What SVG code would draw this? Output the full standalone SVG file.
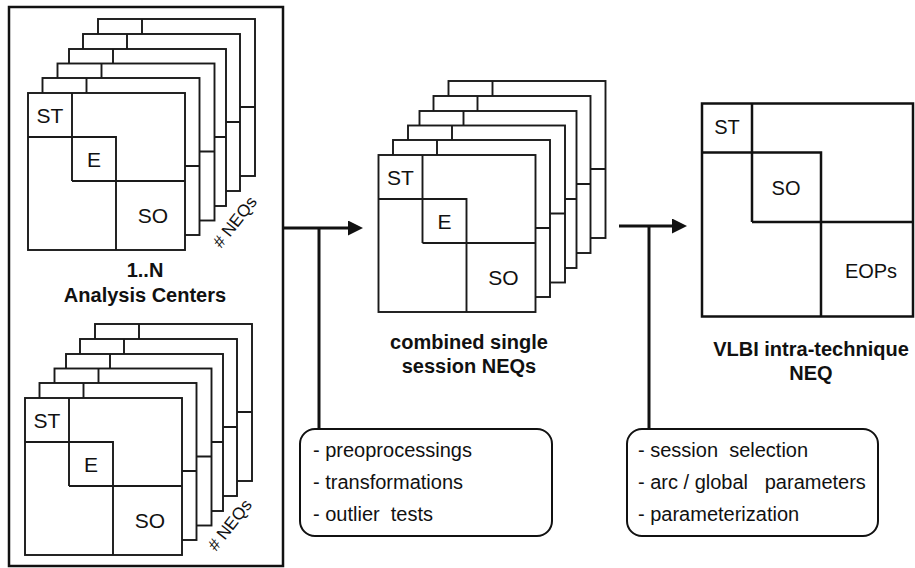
<svg xmlns="http://www.w3.org/2000/svg" width="915" height="568" viewBox="0 0 915 568">
<style>
.m{fill:#fff;stroke:#1a1a1a;stroke-width:1.9}
.ml{fill:none;stroke:#1a1a1a;stroke-width:1.9}
.t{font-family:"Liberation Sans",Arial,Helvetica,sans-serif;fill:#111}
.c{font-size:21px;text-anchor:middle}
.r{font-size:20px;text-anchor:middle}
.b{font-size:20px;font-weight:bold;text-anchor:middle}
.l{font-size:20px;white-space:pre}
.n{font-size:17px}
.con{fill:none;stroke:#111;stroke-width:3}
.box{fill:#fff;stroke:#111;stroke-width:2}
.frame{fill:none;stroke:#111;stroke-width:2.5}
.big{fill:#fff;stroke:#111;stroke-width:2.5}
.bigl{fill:none;stroke:#111;stroke-width:2.5}
</style>
<defs>
<g id="mat">
<rect class="m" x="0" y="0" width="157" height="157"/>
<path class="ml" d="M44,0V88M0,44H88V157M44,88H157"/>
</g>
<g id="stack">
<use href="#mat" x="70" y="-74"/>
<use href="#mat" x="55" y="-59"/>
<use href="#mat" x="41" y="-44"/>
<use href="#mat" x="29.5" y="-29.5"/>
<use href="#mat" x="14.5" y="-15"/>
<use href="#mat"/>
</g>
<marker id="ah" markerUnits="userSpaceOnUse" markerWidth="16" markerHeight="16" refX="2" refY="7.5" orient="auto">
<path d="M0,0L15,7.5L0,15z" fill="#111"/>
</marker>
</defs>

<g id="analysis-centers">
<rect class="frame" x="9" y="7" width="274" height="559"/>
<text class="t b" x="145" y="277">1..N</text>
<text class="t b" x="145" y="302">Analysis Centers</text>
</g>

<g id="ac-stack-top" transform="translate(28,93)">
<use href="#stack"/>
<text class="t c" x="22" y="29.5">ST</text>
<text class="t c" x="66" y="73.5">E</text>
<text class="t c" x="125" y="130">SO</text>
<text class="t n" transform="translate(193,156) rotate(-52)"># NEQs</text>
</g>

<g id="ac-stack-bottom" transform="translate(25,398)">
<use href="#stack"/>
<text class="t c" x="22" y="29.5">ST</text>
<text class="t c" x="66" y="73.5">E</text>
<text class="t c" x="125" y="130">SO</text>
<text class="t n" transform="translate(191,154) rotate(-52)"># NEQs</text>
</g>

<g id="combined-neqs">
<g transform="translate(378.5,155)">
<use href="#stack"/>
<text class="t c" x="22" y="29.5">ST</text>
<text class="t c" x="66" y="73.5">E</text>
<text class="t c" x="125" y="130">SO</text>
</g>
<text class="t b" x="469" y="349">combined single</text>
<text class="t b" x="469" y="373">session NEQs</text>
</g>

<g id="vlbi-neq">
<rect class="big" x="702" y="103.5" width="211" height="213"/>
<path class="bigl" d="M752,103.5V222M702,152.5H821V316.5M752,222H913"/>
<text class="t r" x="727" y="134">ST</text>
<text class="t r" x="786" y="195">SO</text>
<text class="t r" x="871" y="278">EOPs</text>
<text class="t b" x="811" y="356">VLBI intra-technique</text>
<text class="t b" x="811" y="380">NEQ</text>
</g>

<g id="connectors">
<path class="con" d="M283,228H350" marker-end="url(#ah)"/>
<path class="con" d="M319,228V429"/>
<path class="con" d="M619,226H674" marker-end="url(#ah)"/>
<path class="con" d="M649,226V429"/>
</g>

<g id="preprocessing-box">
<rect class="box" x="300" y="429" width="252" height="107" rx="15"/>
<text class="t l" x="313" y="457">- preoprocessings</text>
<text class="t l" x="313" y="489">- transformations</text>
<text class="t l" x="313" y="521">- outlier  tests</text>
</g>

<g id="selection-box">
<rect class="box" x="627" y="429" width="251" height="107" rx="15"/>
<text class="t l" x="638" y="457">- session  selection</text>
<text class="t l" x="638" y="489">- arc / global   parameters</text>
<text class="t l" x="638" y="521">- parameterization</text>
</g>
</svg>
